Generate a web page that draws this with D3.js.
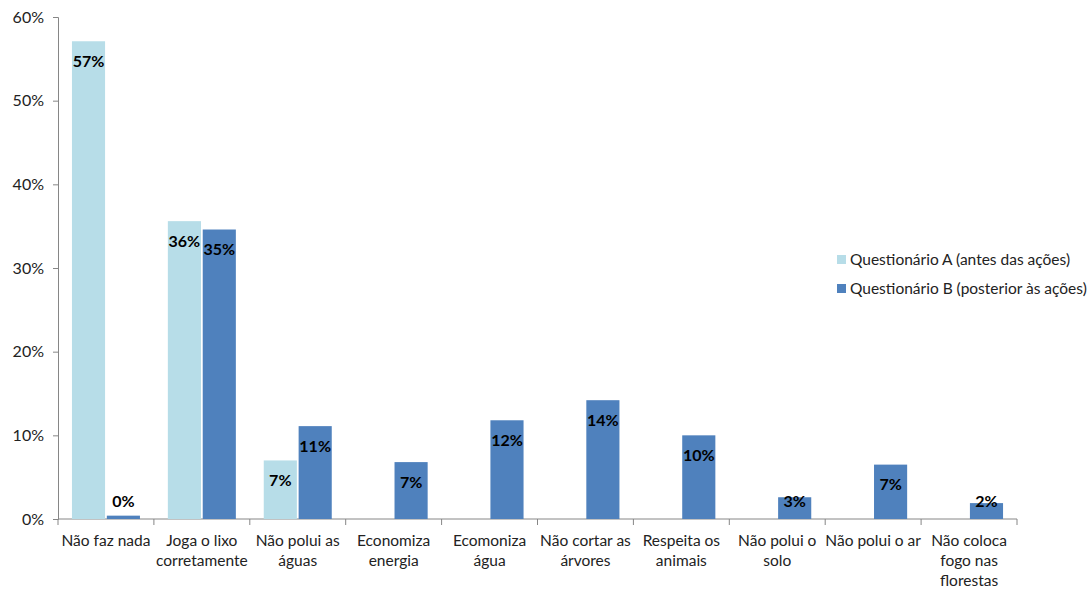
<!DOCTYPE html>
<html>
<head>
<meta charset="utf-8">
<script src="https://cdn.jsdelivr.net/npm/d3@7"></script>
<style>
  body { margin: 0; background: #fff; }
  svg text { font-family: Lato, "Open Sans", sans-serif; }
</style>
</head>
<body>
<div id="chart"></div>
<script>
var categories = [
  ["Não faz nada"],
  ["Joga o lixo", "corretamente"],
  ["Não polui as", "águas"],
  ["Economiza", "energia"],
  ["Ecomoniza", "água"],
  ["Não cortar as", "árvores"],
  ["Respeita os", "animais"],
  ["Não polui o", "solo"],
  ["Não polui o ar"],
  ["Não coloca", "fogo nas", "florestas"]
];
var seriesNames = ["Questionário A (antes das ações)", "Questionário B (posterior às ações)"];
var valuesA = [57.1, 35.6, 7.0, null, null, null, null, null, null, null];
var valuesB = [0.4, 34.6, 11.1, 6.8, 11.8, 14.2, 10.0, 2.6, 6.5, 1.9];
var labelsA = ["57%", "36%", "7%", "", "", "", "", "", "", ""];
var labelsB = ["0%", "35%", "11%", "7%", "12%", "14%", "10%", "3%", "7%", "2%"];
var yTicks = [0, 10, 20, 30, 40, 50, 60];
var colors = ["#b7dde8", "#4f81bd"];

var margin = {top: 17, right: 72, bottom: 70, left: 58},
    width = 1089 - margin.left - margin.right,
    height = 589 - margin.top - margin.bottom;

var svg = d3.select("#chart")
  .append("svg")
    .attr("width", 1089)
    .attr("height", 589)
  .append("g")
    .attr("transform", "translate(" + margin.left + "," + margin.top + ")");

var x = d3.scaleBand()
  .domain(d3.range(categories.length))
  .range([0, width])
  .paddingInner(0)
  .paddingOuter(0);

var x1 = d3.scaleBand()
  .domain([0, 1])
  .range([0, x.bandwidth()])
  .paddingInner(0.05)
  .paddingOuter(0.4);

var y = d3.scaleLinear()
  .domain([0, 60])
  .range([height, 0]);

// y axis
var yAxis = svg.append("g")
  .call(d3.axisLeft(y).tickValues(yTicks).tickSize(5).tickPadding(9).tickFormat(function(d) { return d + "%"; }));
yAxis.selectAll("path, line").attr("stroke", "#868686");
yAxis.selectAll("text").style("font-size", "16px").attr("fill", "#222");

// x axis, ticks between categories
var xAxis = svg.append("g").attr("transform", "translate(0," + height + ")");
xAxis.append("line")
  .attr("x1", 0).attr("x2", width)
  .attr("stroke", "#868686");
xAxis.selectAll(".tk")
  .data(d3.range(categories.length + 1))
  .enter().append("line")
    .attr("x1", function(d) { return d * x.step(); })
    .attr("x2", function(d) { return d * x.step(); })
    .attr("y1", 0).attr("y2", 6)
    .attr("stroke", "#868686");

xAxis.selectAll(".cat")
  .data(categories)
  .enter().append("text")
    .attr("x", function(d, i) { return x(i) + x.bandwidth() / 2; })
    .attr("y", 27)
    .attr("text-anchor", "middle")
    .style("font-size", "15.5px")
    .attr("fill", "#222")
    .each(function(d) {
      var t = d3.select(this);
      d.forEach(function(line, j) {
        t.append("tspan")
          .attr("x", t.attr("x"))
          .attr("dy", j === 0 ? 0 : 20)
          .text(line);
      });
    });

var series = [valuesA, valuesB];
var labels = [labelsA, labelsB];

series.forEach(function(vals, s) {
  vals.forEach(function(v, i) {
    if (v === null) return;
    svg.append("rect")
      .attr("x", x(i) + x1(s))
      .attr("width", x1.bandwidth())
      .attr("y", y(v))
      .attr("height", height - y(v))
      .attr("fill", colors[s]);
  });
});

series.forEach(function(vals, s) {
  vals.forEach(function(v, i) {
    if (v === null) return;
    var cy = Math.min(y(v) + 20, height - 18);
    svg.append("text")
      .attr("x", x(i) + x1(s) + x1.bandwidth() / 2)
      .attr("y", cy)
      .attr("dy", "0.35em")
      .attr("text-anchor", "middle")
      .style("font-size", "16px")
      .style("font-weight", "700")
      .attr("fill", "#000")
      .text(labels[s][i]);
  });
});

// legend
var legend = svg.append("g")
  .attr("transform", "translate(" + (837 - margin.left) + "," + (260 - margin.top) + ")");
seriesNames.forEach(function(name, s) {
  legend.append("rect")
    .attr("x", 0).attr("y", s * 29 - 5)
    .attr("width", 9).attr("height", 9)
    .attr("fill", colors[s]);
  legend.append("text")
    .attr("x", 13).attr("y", s * 29)
    .attr("dy", "0.35em")
    .style("font-size", "15.5px")
    .attr("fill", "#222")
    .text(name);
});
</script>
</body>
</html>
